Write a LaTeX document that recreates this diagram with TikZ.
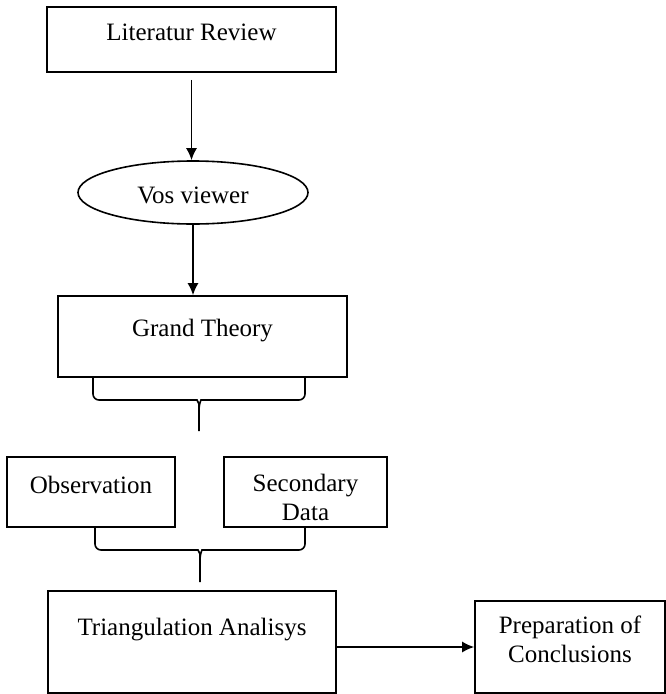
\documentclass[tikz,border=0pt]{standalone}
\usepackage{fontspec}
\setmainfont{Liberation Serif}
\usetikzlibrary{shapes.geometric,arrows.meta}
\begin{document}
\begin{tikzpicture}[x=1pt,y=-1pt,
	box/.style={draw, line width=1.6pt, inner sep=0pt, align=center, text height=17pt, font=\fontsize{25}{29}\selectfont},
	arr/.style={line width=1.6pt, -{Latex[length=12pt,width=11pt]}},
	bracket/.style={line width=1.6pt, rounded corners=6pt}]
\useasboundingbox (0,0) rectangle (666,694);

\node[box, minimum width=289pt, minimum height=65pt, text depth=15.4pt] (lit) at (191.5,39.5) {Literatur Review};
\node[box, ellipse, minimum width=230pt, minimum height=63pt, text height=21.6pt, text depth=0pt] (vos) at (193,192.5) {Vos viewer};
\node[box, minimum width=289pt, minimum height=81pt, text depth=17.4pt] (gt) at (202.5,336.5) {Grand Theory};
\node[box, minimum width=168pt, minimum height=70pt, text depth=14.4pt] (obs) at (91,492) {Observation};
\node[box, minimum width=163pt, minimum height=70pt, text height=56.6pt, text depth=0pt] (sec) at (305.5,492) {Secondary\\Data};
\node[box, minimum width=288pt, minimum height=102pt, text depth=30.4pt] (tri) at (192,642) {Triangulation Analisys};
\node[box, minimum width=190pt, minimum height=92pt, text height=46pt, text depth=15.4pt] (prep) at (570,647) {Preparation of\\Conclusions};

\draw[arr] ([yshift=-7pt]lit.south) -- (lit.south |- vos.north);
\draw[arr] (vos.south) -- (vos.south |- gt.north);
\draw[arr] (tri.east |- prep.west) -- (prep.west);

\coordinate (gtl) at (93,377);
\coordinate (gtr) at (305,377);
\coordinate (gtend) at (199,431);
\draw[bracket] (gtl) -- (93,400) -- (191,400) .. controls (197,400) and (199,404) .. (199,410) -- (gtend);
\draw[bracket] (gtr) -- (305,400) -- (207,400) .. controls (201,400) and (199,404) .. (199,410);

\coordinate (obsb) at (95,527);
\coordinate (secb) at (305,527);
\coordinate (triend) at (200,582);
\draw[bracket] (obsb) -- (95,550) -- (192,550) .. controls (198,550) and (200,554) .. (200,560) -- (triend);
\draw[bracket] (secb) -- (305,550) -- (208,550) .. controls (202,550) and (200,554) .. (200,560);
\end{tikzpicture}
\end{document}
